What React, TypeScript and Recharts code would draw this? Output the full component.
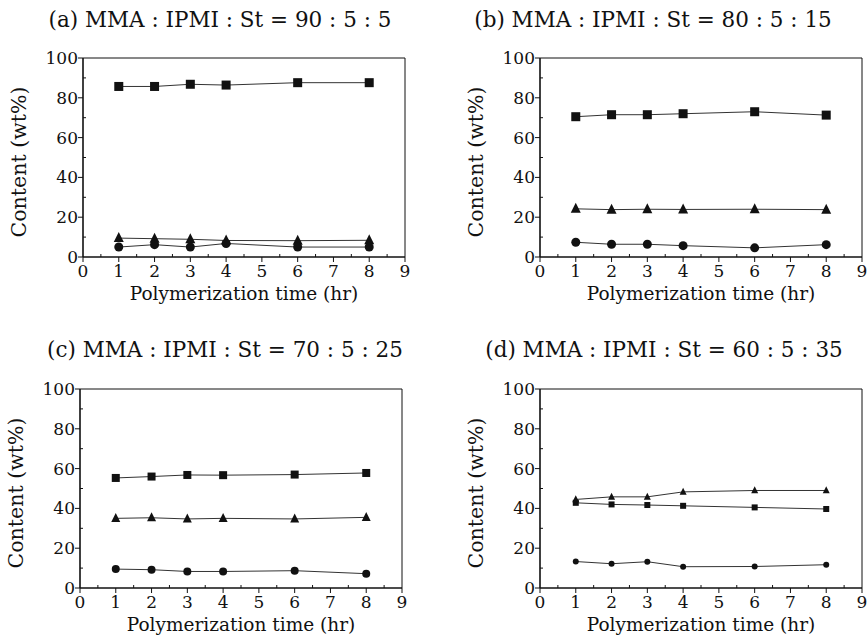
import { LineChart, Line, XAxis, YAxis, ReferenceArea } from 'recharts'

// polymerization time (hr)
const times = [1, 2, 3, 4, 6, 8]

const squareA = [85.7, 85.7, 86.8, 86.4, 87.6, 87.6]
const triangleA = [9.5, 9.2, 8.9, 8.3, 8.2, 8.4]
const circleA = [5.0, 6.2, 5.0, 6.8, 5.0, 5.0]

const squareB = [70.5, 71.5, 71.5, 72.0, 73.0, 71.3]
const triangleB = [24.2, 23.8, 24.0, 23.9, 24.0, 23.8]
const circleB = [7.4, 6.4, 6.4, 5.7, 4.6, 6.2]

const squareC = [55.3, 56.0, 56.8, 56.7, 57.0, 57.8]
const triangleC = [35.0, 35.3, 34.7, 35.0, 34.7, 35.5]
const circleC = [9.5, 9.2, 8.3, 8.3, 8.7, 7.2]

const squareD = [42.8, 42.0, 41.7, 41.3, 40.5, 39.7]
const triangleD = [44.5, 45.8, 45.8, 48.3, 49.0, 49.0]
const circleD = [13.3, 12.2, 13.2, 10.7, 10.8, 11.7]

const xTicks = [0, 0.5, 1, 1.5, 2, 2.5, 3, 3.5, 4, 4.5, 5, 5.5, 6, 6.5, 7, 7.5, 8, 8.5, 9]
const yTicks = [0, 10, 20, 30, 40, 50, 60, 70, 80, 90, 100]

const FONT = '"DejaVu Serif", "Liberation Serif", serif'
const INK = '#111'
const PLOT_W = 322
const PLOT_H = 199
const Y_W = 50

function buildRows(sq: number[], tri: number[], circ: number[]) {
  return times.map((t, i) => ({ t, sq: sq[i], tri: tri[i], circ: circ[i] }))
}

function XTick(props: any) {
  const { x, y, payload } = props
  const v = payload.value
  const major = Number.isInteger(v)
  return (
    <g>
      {major ? (
        <line x1={x} x2={x} y1={y} y2={y + 5} stroke={INK} />
      ) : (
        <line x1={x} x2={x} y1={y} y2={y - 3} stroke={INK} />
      )}
      {major && (
        <text x={x} y={y + 20} textAnchor="middle" fontSize={17} fontFamily={FONT} fill={INK}>
          {v}
        </text>
      )}
    </g>
  )
}

function YTick(props: any) {
  const { x, y, payload } = props
  const v = payload.value
  const major = v % 20 === 0
  return (
    <g>
      {major ? (
        <line x1={x - 5} x2={x} y1={y} y2={y} stroke={INK} />
      ) : (
        <line x1={x} x2={x + 3} y1={y} y2={y} stroke={INK} />
      )}
      {major && (
        <text x={x - 5} y={y + 6} textAnchor="end" fontSize={17} fontFamily={FONT} fill={INK}>
          {v}
        </text>
      )}
    </g>
  )
}

function squareDot(s: number) {
  return (p: any) => (
    <rect key={`s${p.index}`} x={p.cx - s / 2} y={p.cy - s / 2} width={s} height={s} fill={INK} />
  )
}

function triangleDot(s: number) {
  return (p: any) => (
    <polygon
      key={`t${p.index}`}
      points={`${p.cx},${p.cy - s * 0.6} ${p.cx - s / 2},${p.cy + s * 0.4} ${p.cx + s / 2},${p.cy + s * 0.4}`}
      fill={INK}
    />
  )
}

function circleDot(s: number) {
  return (p: any) => <circle key={`c${p.index}`} cx={p.cx} cy={p.cy} r={s / 2} fill={INK} />
}

interface PanelProps {
  title: string
  titleX: number
  titleY: number
  plotLeft: number
  plotTop: number
  sq: number[]
  tri: number[]
  circ: number[]
  mark: number
}

function Panel({ title, titleX, titleY, plotLeft, plotTop, sq, tri, circ, mark }: PanelProps) {
  const rows = buildRows(sq, tri, circ)
  const axisY = plotTop + PLOT_H
  return (
    <>
      <div
        style={{
          position: 'absolute',
          left: titleX - 220,
          width: 440,
          top: titleY - 13,
          textAlign: 'center',
          fontFamily: FONT,
          fontSize: 21.5,
          lineHeight: '26px',
          color: INK,
          whiteSpace: 'pre',
        }}
      >
        {title}
      </div>
      <div
        style={{
          position: 'absolute',
          left: plotLeft + PLOT_W / 2 - 150,
          width: 300,
          top: axisY + 26,
          textAlign: 'center',
          fontFamily: FONT,
          fontSize: 18.5,
          lineHeight: '22px',
          color: INK,
        }}
      >
        Polymerization time (hr)
      </div>
      <div
        style={{
          position: 'absolute',
          left: plotLeft - 64 - 100,
          width: 200,
          top: plotTop + PLOT_H / 2 + 4 - 12,
          textAlign: 'center',
          fontFamily: FONT,
          fontSize: 20.5,
          lineHeight: '24px',
          color: INK,
          transform: 'rotate(-90deg)',
        }}
      >
        Content (wt%)
      </div>
      <div style={{ position: 'absolute', left: plotLeft - Y_W, top: plotTop - 10 }}>
        <LineChart
          width={Y_W + PLOT_W + 10}
          height={10 + PLOT_H + 40}
          data={rows}
          margin={{ top: 10, right: 10, bottom: 0, left: 0 }}
        >
          <XAxis
            dataKey="t"
            type="number"
            domain={[0, 9]}
            ticks={xTicks}
            interval={0}
            height={40}
            tickSize={0}
            tickMargin={0}
            tickLine={false}
            tick={<XTick />}
            axisLine={{ stroke: INK, strokeWidth: 1.2 }}
          />
          <YAxis
            type="number"
            domain={[0, 100]}
            ticks={yTicks}
            interval={0}
            width={Y_W}
            tickSize={0}
            tickMargin={0}
            tickLine={false}
            tick={<YTick />}
            axisLine={{ stroke: INK, strokeWidth: 1.2 }}
          />
          <ReferenceArea x1={0} x2={9} y1={0} y2={100} fill="none" stroke={INK} strokeWidth={1} />
          <Line
            dataKey="sq"
            stroke="#333"
            strokeWidth={1}
            dot={squareDot(mark)}
            activeDot={false}
            isAnimationActive={false}
          />
          <Line
            dataKey="tri"
            stroke="#333"
            strokeWidth={1}
            dot={triangleDot(mark + 1)}
            activeDot={false}
            isAnimationActive={false}
          />
          <Line
            dataKey="circ"
            stroke="#333"
            strokeWidth={1}
            dot={circleDot(mark)}
            activeDot={false}
            isAnimationActive={false}
          />
        </LineChart>
      </div>
    </>
  )
}

export default function App() {
  return (
    <div
      style={{
        position: 'absolute',
        left: 0,
        top: 0,
        width: 867,
        height: 642,
        background: '#fff',
        overflow: 'hidden',
      }}
    >
      <Panel
        title="(a) MMA : IPMI : St = 90 : 5 : 5"
        titleX={220}
        titleY={20}
        plotLeft={83}
        plotTop={58}
        sq={squareA}
        tri={triangleA}
        circ={circleA}
        mark={9}
      />
      <Panel
        title="(b) MMA : IPMI : St = 80 : 5 : 15"
        titleX={653}
        titleY={20}
        plotLeft={540}
        plotTop={58}
        sq={squareB}
        tri={triangleB}
        circ={circleB}
        mark={9}
      />
      <Panel
        title="(c) MMA : IPMI : St = 70 : 5 : 25"
        titleX={225}
        titleY={350}
        plotLeft={80}
        plotTop={389}
        sq={squareC}
        tri={triangleC}
        circ={circleC}
        mark={8}
      />
      <Panel
        title="(d) MMA : IPMI : St = 60 : 5 : 35"
        titleX={664}
        titleY={350}
        plotLeft={540}
        plotTop={389}
        sq={squareD}
        tri={triangleD}
        circ={circleD}
        mark={6}
      />
    </div>
  )
}
